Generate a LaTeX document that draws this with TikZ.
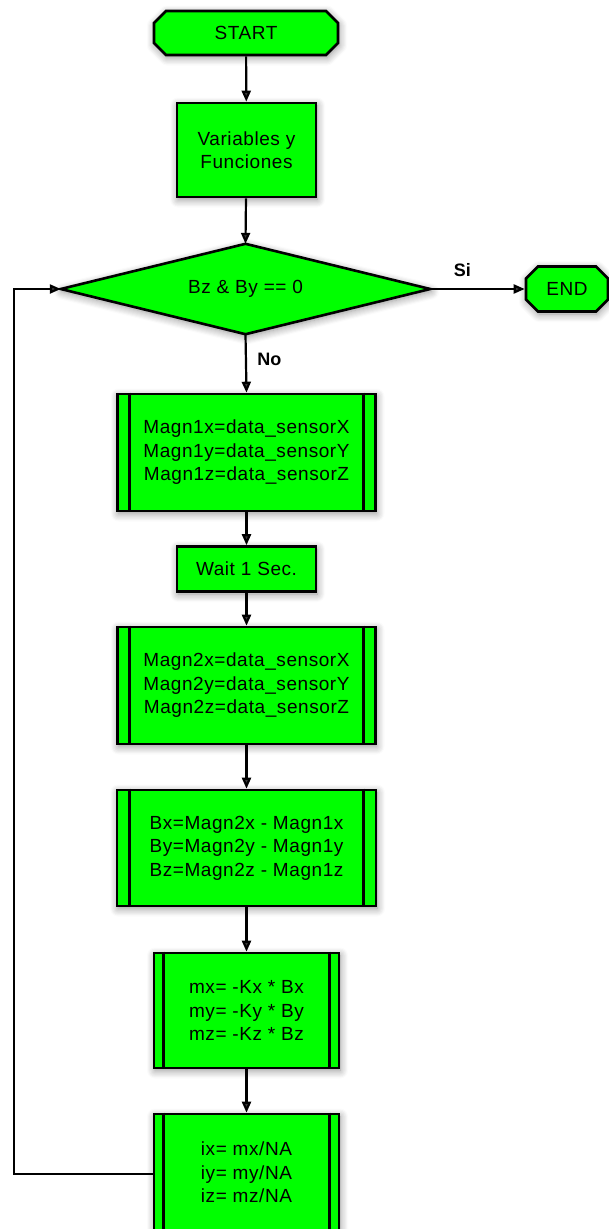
\documentclass[tikz,border=0pt]{standalone}
\usepackage{fontspec}
\setmainfont{Liberation Sans}
\usetikzlibrary{arrows.meta,shapes.geometric,shapes.misc,shadows.blur}

\definecolor{boxgreen}{RGB}{0,255,0}

\tikzset{
  softshadow/.style={blur shadow={shadow xshift=1pt, shadow yshift=-2.5pt,
      shadow blur steps=8, shadow blur radius=8pt, shadow opacity=45}},
  base/.style={draw=black, line width=2.6pt, fill=boxgreen, inner sep=0pt,
    align=center, text=black,
    font=\addfontfeature{LetterSpace=3}\fontsize{19}{23.5}\selectfont,
    softshadow},
  term/.style={base, chamfered rectangle, chamfered rectangle xsep=6pt,
    chamfered rectangle ysep=6pt},
  procbox/.style={base, rectangle},
  subproc/.style={base, rectangle},
  frame/.style={rectangle, inner sep=0pt, align=center,
    font=\addfontfeature{LetterSpace=3}\fontsize{19}{23.5}\selectfont},
  conn/.style={line width=2.2pt, -{Triangle[length=11pt,width=9pt]}},
  tag/.style={font=\bfseries\fontsize{18}{20}\selectfont}
}

\begin{document}
\begin{tikzpicture}[x=1pt, y=-1pt]
\useasboundingbox (0,0) rectangle (609,1229);

% terminals
\node[term, minimum width=184pt, minimum height=44pt] (start) at (246,33) {START};
\node[term, minimum width=82pt, minimum height=45pt] (end) at (567,289) {END};

% initialisation
\node[procbox, minimum width=139pt, minimum height=94pt] (vars) at (246.5,150)
  {Variables y\\Funciones};

% loop condition: the frame's side anchors are the diamond's corners
\node[frame, minimum width=369pt, minimum height=90pt] (dec) at (245.5,289) {};
\path[draw=black, line width=2.6pt, fill=boxgreen, softshadow, line join=miter]
  (dec.north) -- (dec.east) -- (dec.south) -- (dec.west) -- cycle;
\node[frame] (dectext) at (dec.center) {Bz \& By == 0};

% first reading
\node[subproc, minimum width=258pt, minimum height=117pt] (m1) at (246.5,452.5)
  {Magn1x=data\_sensorX\\Magn1y=data\_sensorY\\Magn1z=data\_sensorZ};

\node[procbox, minimum width=139pt, minimum height=45pt] (wait) at (246.5,569)
  {Wait 1 Sec.};

% second reading
\node[subproc, minimum width=258pt, minimum height=117pt] (m2) at (246.5,685.5)
  {Magn2x=data\_sensorX\\Magn2y=data\_sensorY\\Magn2z=data\_sensorZ};

% field difference
\node[subproc, minimum width=259pt, minimum height=116pt] (bx) at (246.5,848)
  {Bx=Magn2x - Magn1x\\By=Magn2y - Magn1y\\Bz=Magn2z - Magn1z};

% moments
\node[subproc, minimum width=185pt, minimum height=115pt] (mx) at (246.5,1010.5)
  {mx= -Kx * Bx\\my= -Ky * By\\mz= -Kz * Bz};

% currents
\node[subproc, minimum width=185pt, minimum height=117pt] (ix) at (246.5,1172.5)
  {ix= mx/NA\\iy= my/NA\\iz= mz/NA};

% inner bars of the predefined-process boxes
\foreach \n/\d in {m1/13.5, m2/13.5, bx/14, mx/11, ix/11}{
  \draw[line width=2.6pt] ([xshift=\d pt]\n.north west) -- ([xshift=\d pt]\n.south west);
  \draw[line width=2.6pt] ([xshift=-\d pt]\n.north east) -- ([xshift=-\d pt]\n.south east);
}

% connectors
\draw[conn] (start) -- (vars);
\draw[conn] (vars) -- (dec.north);
\draw[conn] (dec.east) -- node[tag, pos=0.34, above=8pt] {Si} (end.west);
\draw[conn] (dec.south) -- node[tag, pos=0.43, right=7pt] {No} (m1.north);
\draw[conn] (m1) -- (wait);
\draw[conn] (wait) -- (m2);
\draw[conn] (m2) -- (bx);
\draw[conn] (bx) -- (mx);
\draw[conn] (mx) -- (ix);

% return path to the condition
\coordinate (lp) at (14,1174);
\draw[conn] ([yshift=-1.5pt]ix.west) -- (lp) |- (dec.west);
\end{tikzpicture}
\end{document}
